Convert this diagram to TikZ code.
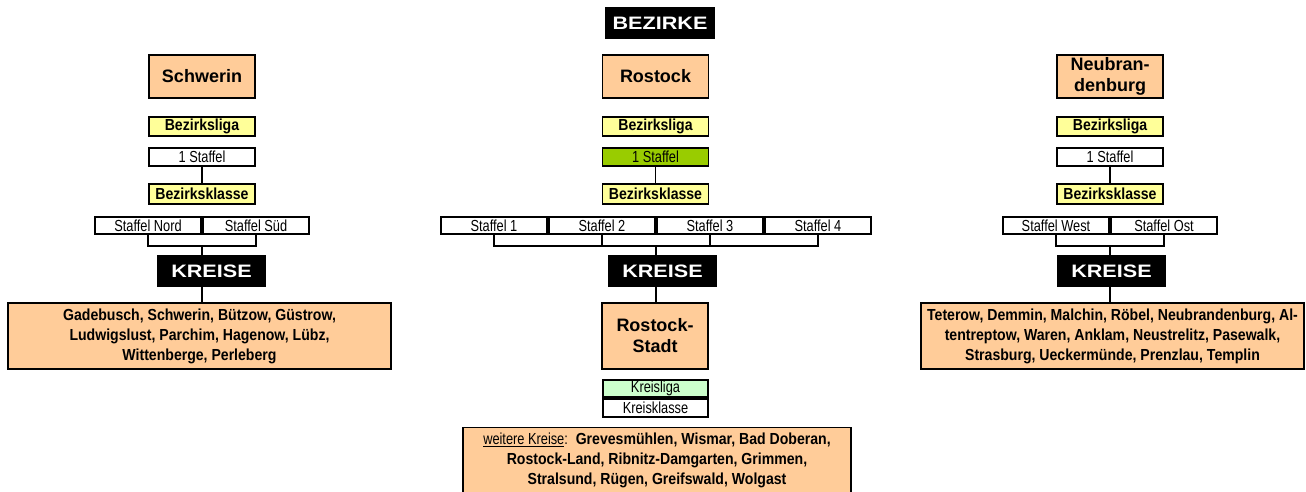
\documentclass[tikz,border=0pt]{standalone}
\usepackage{fontspec}
\setmainfont{Liberation Sans}
\newfontfamily\rnarrow[FakeStretch=0.8]{Liberation Sans}
\newfontfamily\bnarrow[FakeStretch=0.88]{Liberation Sans}
\newfontfamily\wideface[FakeStretch=1.2]{Liberation Sans}
\definecolor{peach}{HTML}{FFCC99}
\definecolor{ligayellow}{HTML}{FFFF99}
\definecolor{stgreen}{HTML}{99CC00}
\definecolor{klgreen}{HTML}{CCFFCC}
\tikzset{
  box/.style={draw, line width=1.8pt, inner sep=0pt, align=center},
  city/.style={box, fill=peach, minimum width=106, minimum height=43, font=\bfseries\fontsize{18}{21}\selectfont},
  liga/.style={box, fill=ligayellow, minimum width=106, minimum height=19, font=\bnarrow\bfseries\fontsize{16}{19}\selectfont},
  staf/.style={box, fill=white, minimum width=106, minimum height=18, font=\rnarrow\fontsize{16}{19}\selectfont},
  title/.style={fill=black, text=white, inner sep=0pt, minimum width=109, minimum height=32, font=\wideface\bfseries\fontsize{18}{20}\selectfont},
  list/.style={box, fill=peach, minimum width=383, minimum height=66, font=\bnarrow\bfseries\fontsize{16}{20}\selectfont},
  conn/.style={line width=1.8pt}
}
\begin{document}
\begin{tikzpicture}[x=1pt,y=-1pt]
\useasboundingbox (0,0) rectangle (1306,492);
\begin{scope}
\clip (0,0) rectangle (1306,492);
% title
\node[title, minimum width=110] (bez) at (660,23) {BEZIRKE};

% ---------- Schwerin
\node[city] (s-city) at (202,76.5) {Schwerin};
\node[liga] (s-liga) at (202,126.5) {Bezirksliga};
\node[staf] (s-st) at (202,157) {1 Staffel};
\node[liga, minimum height=20] (s-kl) at (202,194) {Bezirksklasse};
\node[staf, minimum height=17] (s-n) at (148,225.5) {Staffel Nord};
\node[staf, minimum height=17] (s-s) at (256,225.5) {Staffel Süd};
\coordinate (s-b) at (202,246);
\node[title] (s-kr) at (211.5,271) {KREISE};
\node[list] (s-list) at (199.5,336) {Gadebusch, Schwerin, Bützow, Güstrow,\\Ludwigslust, Parchim, Hagenow, Lübz,\\Wittenberge, Perleberg};
\draw[conn] (s-st) -- (s-kl);
\draw[conn] (s-n.south) |- (s-b) -| (s-s.south);
\draw[conn] (s-b) -- (s-b |- s-kr.north);
\draw[conn] (s-b |- s-kr.south) -- (s-b |- s-list.north);

% ---------- Rostock
\node[city] (r-city) at (655.5,76.5) {Rostock};
\node[liga] (r-liga) at (655.5,126.5) {Bezirksliga};
\node[staf, fill=stgreen] (r-st) at (655.5,157) {1 Staffel};
\node[liga, minimum height=20] (r-kl) at (655.5,194) {Bezirksklasse};
\node[staf, minimum height=17] (r-1) at (494,225.5) {Staffel 1};
\node[staf, minimum height=17] (r-2) at (602,225.5) {Staffel 2};
\node[staf, minimum height=17] (r-3) at (710,225.5) {Staffel 3};
\node[staf, minimum height=17] (r-4) at (818,225.5) {Staffel 4};
\coordinate (r-b) at (656,246);
\node[title] (r-kr) at (662.5,271) {KREISE};
\node[city, minimum height=66] (r-stadt) at (655,336) {Rostock-\\Stadt};
\node[staf, fill=klgreen, minimum width=105, minimum height=17] (r-kli) at (655.5,388.5) {Kreisliga};
\node[staf, minimum width=105, minimum height=18] (r-kkl) at (655.5,408) {Kreisklasse};
\node[list, minimum width=388] (r-weit) at (657,460.5) {{\rnarrow\mdseries\underline{weitere Kreise}:}\ \ Grevesmühlen, Wismar, Bad Doberan,\\Rostock-Land, Ribnitz-Damgarten, Grimmen,\\Stralsund, Rügen, Greifswald, Wolgast};
\draw[conn] (r-st) -- (r-kl);
\draw[conn] (r-1.south) |- (r-b) -| (r-4.south);
\draw[conn] (r-2.south) -- (r-2.south |- r-b);
\draw[conn] (r-3.south) -- (r-3.south |- r-b);
\draw[conn] (r-b) -- (r-b |- r-kr.north);
\draw[conn] (r-b |- r-kr.south) -- (r-b |- r-stadt.north);

% ---------- Neubrandenburg
\node[city] (n-city) at (1110,76.5) {Neubran-\\denburg};
\node[liga] (n-liga) at (1110,126.5) {Bezirksliga};
\node[staf] (n-st) at (1110,157) {1 Staffel};
\node[liga, minimum height=20] (n-kl) at (1110,194) {Bezirksklasse};
\node[staf, minimum height=17] (n-w) at (1056,225.5) {Staffel West};
\node[staf, minimum height=17] (n-o) at (1164,225.5) {Staffel Ost};
\coordinate (n-b) at (1110,246);
\node[title] (n-kr) at (1111.5,271) {KREISE};
\node[list] (n-list) at (1112.5,336) {Teterow, Demmin, Malchin, Röbel, Neubrandenburg, Al-\\tentreptow, Waren, Anklam, Neustrelitz, Pasewalk,\\Strasburg, Ueckermünde, Prenzlau, Templin};
\draw[conn] (n-st) -- (n-kl);
\draw[conn] (n-w.south) |- (n-b) -| (n-o.south);
\draw[conn] (n-b) -- (n-b |- n-kr.north);
\draw[conn] (n-b |- n-kr.south) -- (n-b |- n-list.north);
\end{scope}
\end{tikzpicture}
\end{document}
